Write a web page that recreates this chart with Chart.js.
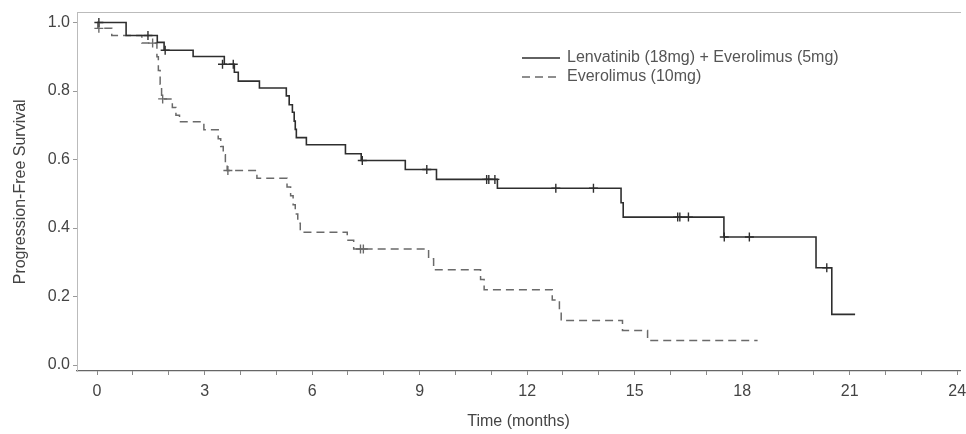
<!DOCTYPE html>
<html>
<head>
<meta charset="utf-8">
<script src="https://cdn.jsdelivr.net/npm/chart.js@4.4.1/dist/chart.umd.min.js"></script>
<style>
  html, body { margin: 0; padding: 0; background: #fff; }
  #wrap { width: 966px; height: 434px; }
</style>
</head>
<body>
<div id="wrap"><canvas id="pfs" width="966" height="434"></canvas></div>
<script>
// Kaplan-Meier step data (time in months, survival probability)
const comboTimes = [0, 0.81, 1.68, 1.87, 2.68, 3.55, 3.83, 3.94, 4.53, 5.28, 5.36, 5.45, 5.5, 5.53, 5.56, 5.84, 6.93, 7.37, 8.6, 9.47, 11.17, 14.62, 14.68, 17.49, 20.06, 20.5, 21.15];
const comboSurv  = [1.0, 0.962, 0.942, 0.919, 0.901, 0.878, 0.855, 0.829, 0.809, 0.786, 0.76, 0.738, 0.712, 0.688, 0.664, 0.643, 0.617, 0.597, 0.571, 0.542, 0.516, 0.474, 0.432, 0.374, 0.284, 0.148, 0.148];

const monoTimes = [0, 0.02, 0.41, 1.25, 1.67, 1.71, 1.76, 1.8, 2.1, 2.2, 2.3, 2.98, 3.38, 3.45, 3.52, 3.58, 3.63, 4.46, 5.3, 5.4, 5.47, 5.53, 5.6, 5.67, 6.98, 7.16, 9.25, 9.39, 10.7, 10.8, 12.7, 12.9, 12.95, 14.66, 15.36, 18.43];
const monoSurv  = [1.0, 0.983, 0.962, 0.94, 0.90, 0.86, 0.82, 0.777, 0.752, 0.729, 0.71, 0.687, 0.661, 0.638, 0.614, 0.591, 0.568, 0.545, 0.52, 0.494, 0.468, 0.441, 0.414, 0.388, 0.364, 0.339, 0.31, 0.278, 0.25, 0.22, 0.19, 0.16, 0.13, 0.101, 0.072, 0.072];

// censored observations
const comboCensTimes = [0.05, 1.42, 1.9, 3.5, 3.8, 7.4, 9.2, 10.87, 10.93, 11.1, 12.8, 13.85, 16.2, 16.26, 16.5, 17.5, 18.2, 20.36];
const comboCensSurv  = [1.0, 0.962, 0.919, 0.878, 0.878, 0.597, 0.571, 0.542, 0.542, 0.542, 0.516, 0.516, 0.432, 0.432, 0.432, 0.374, 0.374, 0.284];
const monoCensTimes = [0.05, 1.55, 1.83, 3.65, 7.35, 7.43];
const monoCensSurv  = [0.983, 0.94, 0.777, 0.568, 0.339, 0.339];

const seriesLabels = ['Lenvatinib (18mg) + Everolimus (5mg)', 'Everolimus (10mg)'];
const xTickValues = [0, 1, 2, 3, 4, 5, 6, 7, 8, 9, 10, 11, 12, 13, 14, 15, 16, 17, 18, 19, 20, 21, 22, 23, 24];
const yTickValues = [0, 0.2, 0.4, 0.6, 0.8, 1.0];

const FONT = 'Arial, "Liberation Sans", sans-serif';
const SOLID = '#2e2e2e';
const DASHED = '#6a6a6a';

function toPoints(xs, ys) {
  return xs.map((x, i) => ({ x: x, y: ys[i] }));
}

// legend drawn at a fixed spot inside the plot
const legendPlugin = {
  id: 'kmLegend',
  afterDraw(chart) {
    const ctx = chart.ctx;
    const rows = chart.data.datasets.filter(ds => !ds.censor);
    ctx.save();
    ctx.font = '16px ' + FONT;
    ctx.textBaseline = 'middle';
    rows.forEach((ds, i) => {
      const y = 58 + i * 19;
      ctx.strokeStyle = ds.borderColor;
      ctx.lineWidth = 1.4;
      ctx.setLineDash(ds.borderDash || []);
      ctx.beginPath();
      ctx.moveTo(522, y);
      ctx.lineTo(560, y);
      ctx.stroke();
      ctx.setLineDash([]);
      ctx.fillStyle = '#555';
      ctx.fillText(ds.label, 567, y);
    });
    ctx.restore();
  }
};

// let the x axis run to the canvas edge instead of reserving room for the last label
function noSidePadding(scale) {
  scale.paddingLeft = 0;
  scale.paddingRight = 0;
}

new Chart(document.getElementById('pfs'), {
  type: 'line',
  data: {
    datasets: [
      {
        label: seriesLabels[0],
        data: toPoints(comboTimes, comboSurv),
        stepped: 'before',
        borderColor: SOLID,
        borderWidth: 1.6,
        pointRadius: 0,
        fill: false
      },
      {
        label: seriesLabels[1],
        data: toPoints(monoTimes, monoSurv),
        stepped: 'before',
        borderColor: DASHED,
        borderDash: [8, 5],
        borderWidth: 1.5,
        pointRadius: 0,
        fill: false
      },
      {
        label: seriesLabels[0] + ' censored',
        censor: true,
        data: toPoints(comboCensTimes, comboCensSurv),
        showLine: false,
        pointStyle: 'cross',
        pointRadius: 4.5,
        borderColor: SOLID,
        pointBorderWidth: 1.4
      },
      {
        label: seriesLabels[1] + ' censored',
        censor: true,
        data: toPoints(monoCensTimes, monoCensSurv),
        showLine: false,
        pointStyle: 'cross',
        pointRadius: 4.5,
        borderColor: DASHED,
        pointBorderWidth: 1.4
      }
    ]
  },
  options: {
    responsive: false,
    animation: false,
    devicePixelRatio: 1,
    layout: { padding: { top: 10, right: 0, bottom: 0, left: 0 } },
    plugins: {
      legend: { display: false },
      tooltip: { enabled: false }
    },
    scales: {
      x: {
        type: 'linear',
        position: 'bottom',
        min: -0.56,
        max: 24.08,
        afterBuildTicks: scale => { scale.ticks = xTickValues.map(v => ({ value: v })); },
        afterFit: scale => { scale.height = 63; noSidePadding(scale); },
        ticks: {
          autoSkip: false,
          maxRotation: 0,
          padding: 7,
          color: '#444',
          font: { family: FONT, size: 16 },
          callback: v => (v % 3 === 0 ? String(v) : '')
        },
        grid: { display: true, drawOnChartArea: false, tickLength: 4, color: '#888' },
        border: { color: '#666', width: 1.2 },
        title: {
          display: true,
          text: 'Time (months)',
          color: '#444',
          font: { family: FONT, size: 16 },
          padding: { top: 0, bottom: 3 }
        }
      },
      xTop: {
        type: 'linear',
        position: 'top',
        min: -0.56,
        max: 24.08,
        ticks: { display: false },
        grid: { display: false },
        border: { color: '#bbb', dash: [1, 2] },
        afterFit: scale => { scale.height = 0; noSidePadding(scale); }
      },
      y: {
        min: -0.0174,
        max: 1.029,
        afterBuildTicks: scale => { scale.ticks = yTickValues.map(v => ({ value: v })); },
        afterFit: scale => { scale.width = 77; },
        ticks: {
          padding: 3,
          color: '#444',
          font: { family: FONT, size: 16 },
          callback: v => Number(v).toFixed(1)
        },
        grid: { display: true, drawOnChartArea: false, tickLength: 4, color: '#999' },
        border: { color: '#bbb', dash: [1, 2] },
        title: {
          display: true,
          text: 'Progression-Free Survival',
          color: '#444',
          font: { family: FONT, size: 16 },
          padding: { top: 11, bottom: 0 }
        }
      }
    }
  },
  plugins: [legendPlugin]
});
</script>
</body>
</html>
